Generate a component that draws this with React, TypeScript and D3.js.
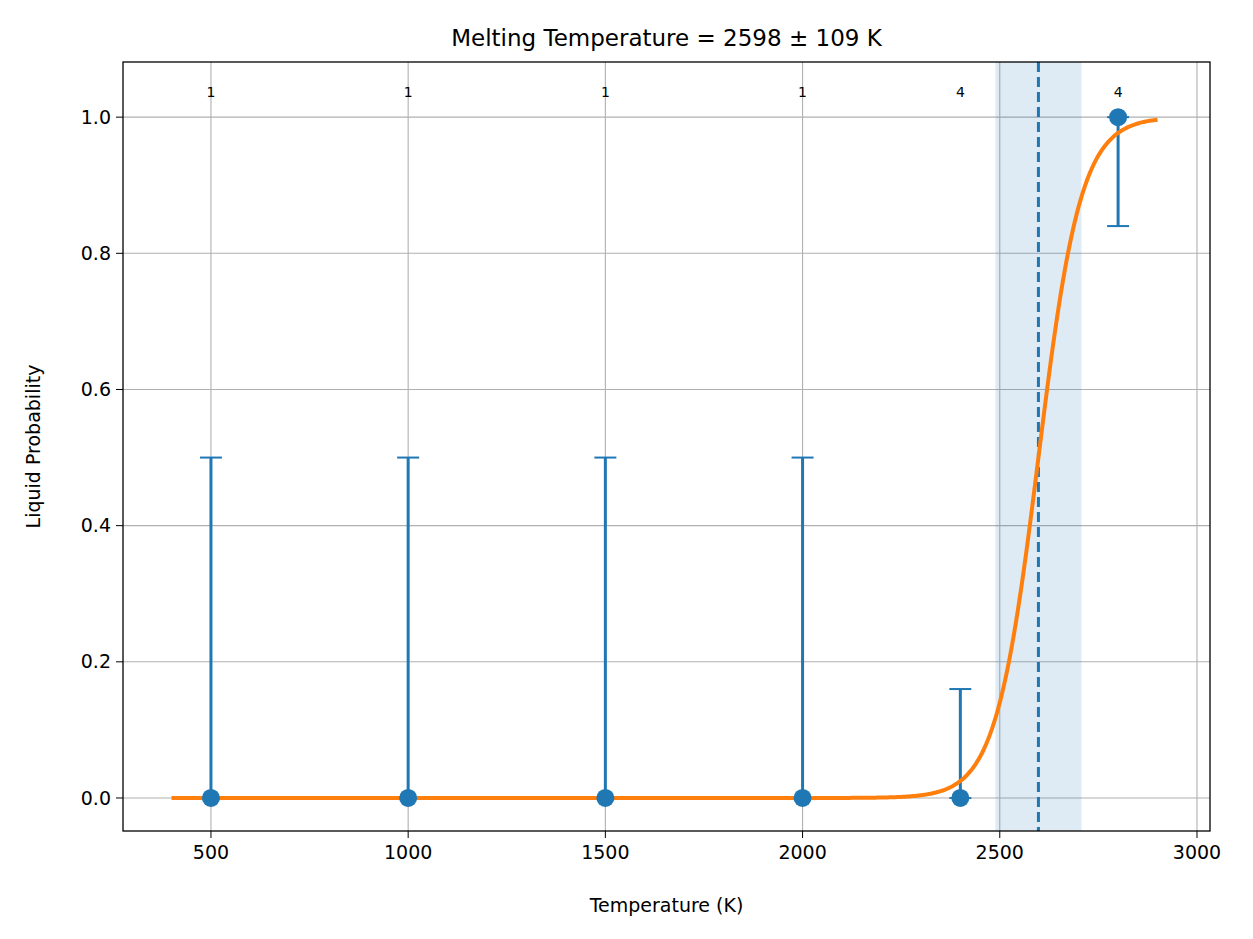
import { useEffect, useRef } from "react"
import * as d3 from "d3"

const temps = [500, 1000, 1500, 2000, 2400, 2800]
const probs = [0, 0, 0, 0, 0, 1]
const errLow = [0, 0, 0, 0, 0, 0.16]
const errHigh = [0.5, 0.5, 0.5, 0.5, 0.16, 0]
const counts = [1, 1, 1, 1, 4, 4]
const meltT = 2598
const meltErr = 109
const fitWidth = 54
const xTicks = [500, 1000, 1500, 2000, 2500, 3000]
const yTicks = [0, 0.2, 0.4, 0.6, 0.8, 1.0]

export default function App() {
  const svgRef = useRef<SVGSVGElement>(null)

  useEffect(() => {
    if (!svgRef.current) return
    const svg = d3.select(svgRef.current)
    svg.selectAll("*").remove()
    const W = 1253, H = 939
    const m = { left: 123, right: 1210, top: 62, bottom: 831 }
    const x = d3.scaleLinear().domain([277, 3033]).range([m.left, m.right])
    const y = d3.scaleLinear().domain([-0.0485, 1.081]).range([m.bottom, m.top])
    const font = "DejaVu Sans"
    svg.attr("width", W).attr("height", H).style("font-family", font)
    svg.append("rect").attr("width", W).attr("height", H).attr("fill", "white")

    // grid
    xTicks.forEach((t) => {
      svg.append("line").attr("x1", x(t)).attr("x2", x(t)).attr("y1", m.top).attr("y2", m.bottom)
        .attr("stroke", "#b0b0b0").attr("stroke-width", 1.1)
    })
    yTicks.forEach((t) => {
      svg.append("line").attr("x1", m.left).attr("x2", m.right).attr("y1", y(t)).attr("y2", y(t))
        .attr("stroke", "#b0b0b0").attr("stroke-width", 1.1)
    })

    // uncertainty band
    svg.append("rect").attr("x", x(meltT - meltErr)).attr("width", x(meltT + meltErr) - x(meltT - meltErr))
      .attr("y", m.top).attr("height", m.bottom - m.top).attr("fill", "#1f77b4").attr("opacity", 0.15)
    svg.append("line").attr("x1", x(meltT)).attr("x2", x(meltT)).attr("y1", m.top).attr("y2", m.bottom)
      .attr("stroke", "#1f77b4").attr("stroke-width", 3).attr("stroke-dasharray", "10,5")

    // error bars
    temps.forEach((t, i) => {
      const lo = probs[i] - errLow[i], hi = probs[i] + errHigh[i]
      svg.append("line").attr("x1", x(t)).attr("x2", x(t)).attr("y1", y(lo)).attr("y2", y(hi))
        .attr("stroke", "#1f77b4").attr("stroke-width", 3)
      ;[lo, hi].forEach((v) => {
        svg.append("line").attr("x1", x(t) - 11).attr("x2", x(t) + 11).attr("y1", y(v)).attr("y2", y(v))
          .attr("stroke", "#1f77b4").attr("stroke-width", 2)
      })
    })

    // fit curve
    const curveT = d3.range(400, 2901, 5)
    const line = d3.line<number>().x((t) => x(t)).y((t) => y(1 / (1 + Math.exp(-(t - meltT) / fitWidth))))
    svg.append("path").attr("d", line(curveT)).attr("fill", "none").attr("stroke", "#ff7f0e").attr("stroke-width", 4)

    temps.forEach((t, i) => {
      svg.append("circle").attr("cx", x(t)).attr("cy", y(probs[i])).attr("r", 9).attr("fill", "#1f77b4")
      svg.append("text").attr("x", x(t)).attr("y", 97).attr("text-anchor", "middle")
        .attr("font-size", 14).text(counts[i])
    })

    // frame
    svg.append("rect").attr("x", m.left).attr("y", m.top).attr("width", m.right - m.left).attr("height", m.bottom - m.top)
      .attr("fill", "none").attr("stroke", "black").attr("stroke-width", 1.3)

    xTicks.forEach((t) => {
      svg.append("line").attr("x1", x(t)).attr("x2", x(t)).attr("y1", m.bottom).attr("y2", m.bottom + 7).attr("stroke", "black")
      svg.append("text").attr("x", x(t)).attr("y", m.bottom + 28).attr("text-anchor", "middle").attr("font-size", 19).text(t)
    })
    yTicks.forEach((t) => {
      svg.append("line").attr("x1", m.left - 7).attr("x2", m.left).attr("y1", y(t)).attr("y2", y(t)).attr("stroke", "black")
      svg.append("text").attr("x", m.left - 12).attr("y", y(t)).attr("dy", "0.35em").attr("text-anchor", "end")
        .attr("font-size", 19).text(t.toFixed(1))
    })

    svg.append("text").attr("x", (m.left + m.right) / 2).attr("y", 912).attr("text-anchor", "middle")
      .attr("font-size", 19).text("Temperature (K)")
    svg.append("text").attr("transform", `translate(40,${(m.top + m.bottom) / 2}) rotate(-90)`)
      .attr("text-anchor", "middle").attr("font-size", 19).text("Liquid Probability")
    svg.append("text").attr("x", (m.left + m.right) / 2).attr("y", 46).attr("text-anchor", "middle")
      .attr("font-size", 23).text(`Melting Temperature = ${meltT} ± ${meltErr} K`)
  }, [])

  return <svg ref={svgRef} style={{ display: "block", margin: -8 }}></svg>
}
